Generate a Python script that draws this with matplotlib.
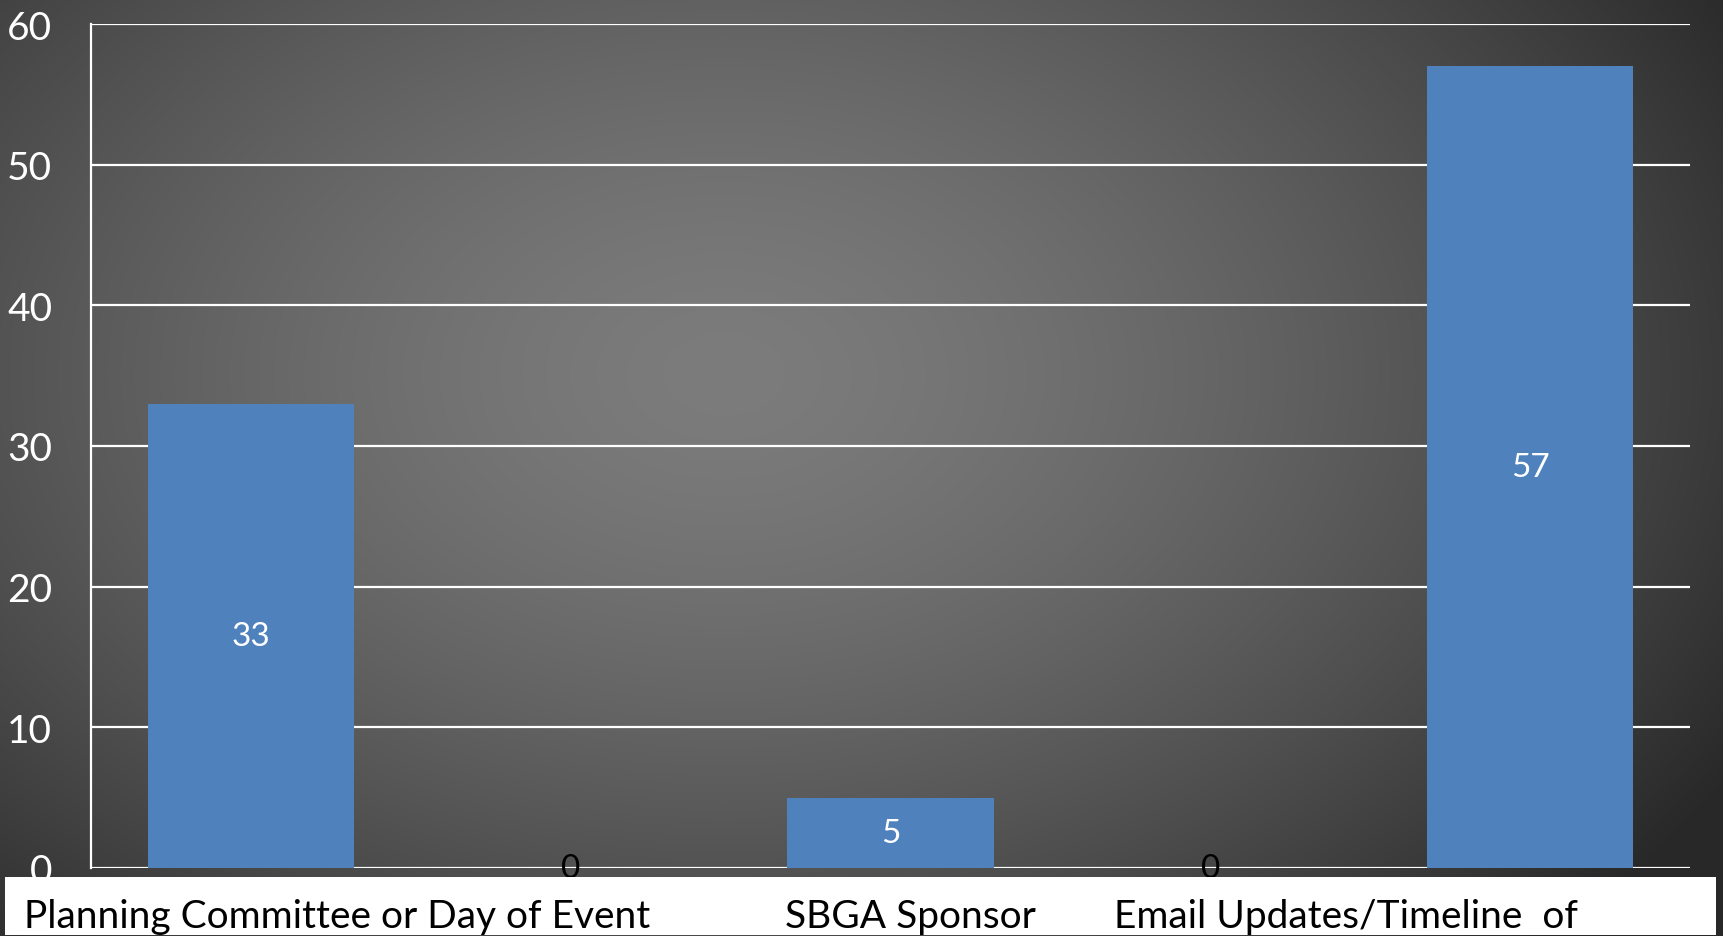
import numpy as np
import matplotlib
matplotlib.use("Agg")
import matplotlib.pyplot as plt
from matplotlib.patches import Rectangle

categories = ["Planning Committee or Day of Event", "", "SBGA Sponsor", "", "Email Updates/Timeline  of"]
values = [33, 0, 5, 0, 57]
yticks = [0, 10, 20, 30, 40, 50, 60]
# visible label positions (category units) in the white strip
label_x = [-0.71, 1.67, 2.70]
label_text = ["Planning Committee or Day of Event", "SBGA Sponsor", "Email Updates/Timeline  of"]

W, H = 1723, 937
fig = plt.figure(figsize=(W / 100, H / 100), dpi=100)

# radial gradient background
yy, xx = np.mgrid[0:H, 0:W]
cx, cy = 0.42 * W, 0.40 * H
r = np.sqrt(((xx - cx) / (0.68 * W)) ** 2 + ((yy - cy) / (0.85 * H)) ** 2)
r = np.clip(r, 0, 1)
light, dark = 0x7c / 255, 0x28 / 255
g = light - (light - dark) * r ** 1.5
bg = fig.add_axes([0, 0, 1, 1], zorder=0)
bg.imshow(np.dstack([g, g, g]), aspect="auto", extent=[0, 1, 0, 1], origin="upper")
bg.axis("off")

ax = fig.add_axes([91 / W, 1 - 869 / H, (1690 - 91) / W, (869 - 25) / H], zorder=1)
ax.patch.set_alpha(0)
x = np.arange(len(categories))
ax.bar(x, values, width=0.645, color="#4F81BD", zorder=3)
ax.set_xlim(-0.5, len(categories) - 0.5)
ax.set_ylim(0, 60)
ax.set_yticks(yticks)
ax.set_yticklabels([str(v) for v in yticks], fontsize=28, color="white", family="Lato")
ax.tick_params(axis="y", length=0, pad=28)
ax.tick_params(axis="x", length=0, labelbottom=False)
ax.grid(axis="y", color="white", linewidth=1.6, zorder=1)
for s in ["top", "right", "bottom"]:
    ax.spines[s].set_visible(False)
ax.spines["left"].set_color("white")
ax.spines["left"].set_linewidth(1.6)

for xi, v in zip(x, values):
    if v > 0:
        ax.text(xi, v / 2, str(v), ha="center", va="center", color="white", fontsize=24, family="Lato", zorder=4)
    else:
        ax.text(xi, 0, str(v), ha="center", va="center", color="black", fontsize=24, family="Lato", zorder=4)

# white label strip at bottom
strip = fig.add_axes([0, 0, 1, 1], zorder=2)
strip.set_xlim(0, W)
strip.set_ylim(H, 0)
strip.axis("off")
strip.add_patch(Rectangle((5, 878), 1711, 58, facecolor="white", edgecolor="none"))

for lx, t in zip(label_x, label_text):
    px = ax.transData.transform((lx, 0))[0]
    strip.text(px, 928, t, ha="left", va="baseline", fontsize=28, family="Lato", color="black")

fig.savefig("out.png", dpi=100)
